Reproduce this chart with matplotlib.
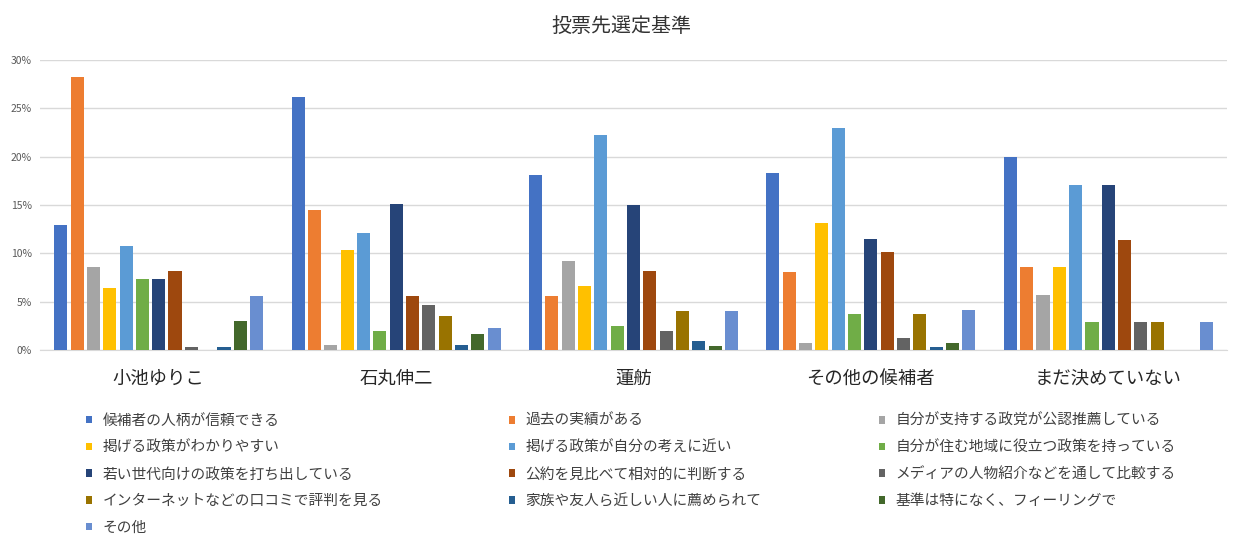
import matplotlib
matplotlib.use("Agg")
import matplotlib.pyplot as plt
import numpy as np
from matplotlib.ticker import FuncFormatter
from matplotlib.patches import Patch

plt.rcParams['font.family'] = ['Noto Sans CJK JP', 'DejaVu Sans']

title = "投票先選定基準"
categories = ["小池ゆりこ", "石丸伸二", "蓮舫", "その他の候補者", "まだ決めていない"]
series_names = [
    "候補者の人柄が信頼できる",
    "過去の実績がある",
    "自分が支持する政党が公認推薦している",
    "掲げる政策がわかりやすい",
    "掲げる政策が自分の考えに近い",
    "自分が住む地域に役立つ政策を持っている",
    "若い世代向けの政策を打ち出している",
    "公約を見比べて相対的に判断する",
    "メディアの人物紹介などを通して比較する",
    "インターネットなどの口コミで評判を見る",
    "家族や友人ら近しい人に薦められて",
    "基準は特になく、フィーリングで",
    "その他",
]
# values in percent, one list per series, order of categories
s01 = [12.9, 26.2, 18.1, 18.3, 20.0]
s02 = [28.2, 14.5, 5.6, 8.1, 8.6]
s03 = [8.6, 0.5, 9.2, 0.7, 5.7]
s04 = [6.4, 10.3, 6.6, 13.1, 8.6]
s05 = [10.8, 12.1, 22.2, 23.0, 17.1]
s06 = [7.3, 2.0, 2.5, 3.7, 2.9]
s07 = [7.3, 15.1, 15.0, 11.5, 17.1]
s08 = [8.2, 5.6, 8.2, 10.1, 11.4]
s09 = [0.3, 4.7, 2.0, 1.2, 2.9]
s10 = [0.0, 3.5, 4.0, 3.7, 2.9]
s11 = [0.3, 0.5, 0.9, 0.3, 0.0]
s12 = [3.0, 1.7, 0.4, 0.7, 0.0]
s13 = [5.6, 2.3, 4.0, 4.1, 2.9]
series_values = [s01, s02, s03, s04, s05, s06, s07, s08, s09, s10, s11, s12, s13]

colors = ["#4472C4", "#ED7D31", "#A5A5A5", "#FFC000", "#5B9BD5", "#70AD47",
          "#264478", "#9E480E", "#636363", "#997300", "#255E91", "#43682B", "#698ED0"]

W, H = 1242, 548
fig = plt.figure(figsize=(W / 100, H / 100), dpi=100)
ax = fig.add_axes([40 / W, 1 - 350 / H, (1227 - 40) / W, (350 - 60) / H])

n = len(series_values)
step = 0.0688
bw = step * 0.8
x = np.arange(len(categories))
for i, (vals, c) in enumerate(zip(series_values, colors)):
    off = (i - (n - 1) / 2) * step
    ax.bar(x + off, vals, width=bw, color=c, zorder=3, label=series_names[i])

ax.set_xlim(-0.5, len(categories) - 0.5)
ax.set_ylim(0, 30)
ax.set_yticks(np.arange(0, 31, 5))
ax.yaxis.set_major_formatter(FuncFormatter(lambda v, p: f"{int(v)}%"))
ax.grid(axis='y', color='#D9D9D9', linewidth=1, zorder=0)
for s in ['top', 'right', 'left']:
    ax.spines[s].set_visible(False)
ax.spines['bottom'].set_color('#D9D9D9')
ax.tick_params(axis='y', length=0, labelsize=7.5, labelcolor='#595959', pad=6)
ax.set_xticks(x)
ax.set_xticklabels(categories, fontsize=13.2, color='#262626')
ax.tick_params(axis='x', length=0, pad=14)

fig.text(0.5, 1 - 26 / H, title, ha='center', va='center', fontsize=14.4, color='#333333')

handles = [Patch(facecolor=c, edgecolor='none') for c in colors]
col_x = [80, 503, 873]
for k in range(3):
    idx = list(range(k, n, 3))
    leg = fig.legend([handles[i] for i in idx], [series_names[i] for i in idx],
                     loc='upper left', bbox_to_anchor=(col_x[k] / W, 1 - 408 / H),
                     frameon=False, fontsize=10.6, handlelength=0.42, handleheight=0.42,
                     handletextpad=0.7, labelspacing=0.86, borderaxespad=0,
                     labelcolor='#404040')

fig.savefig("out.png", dpi=100, facecolor='white')
